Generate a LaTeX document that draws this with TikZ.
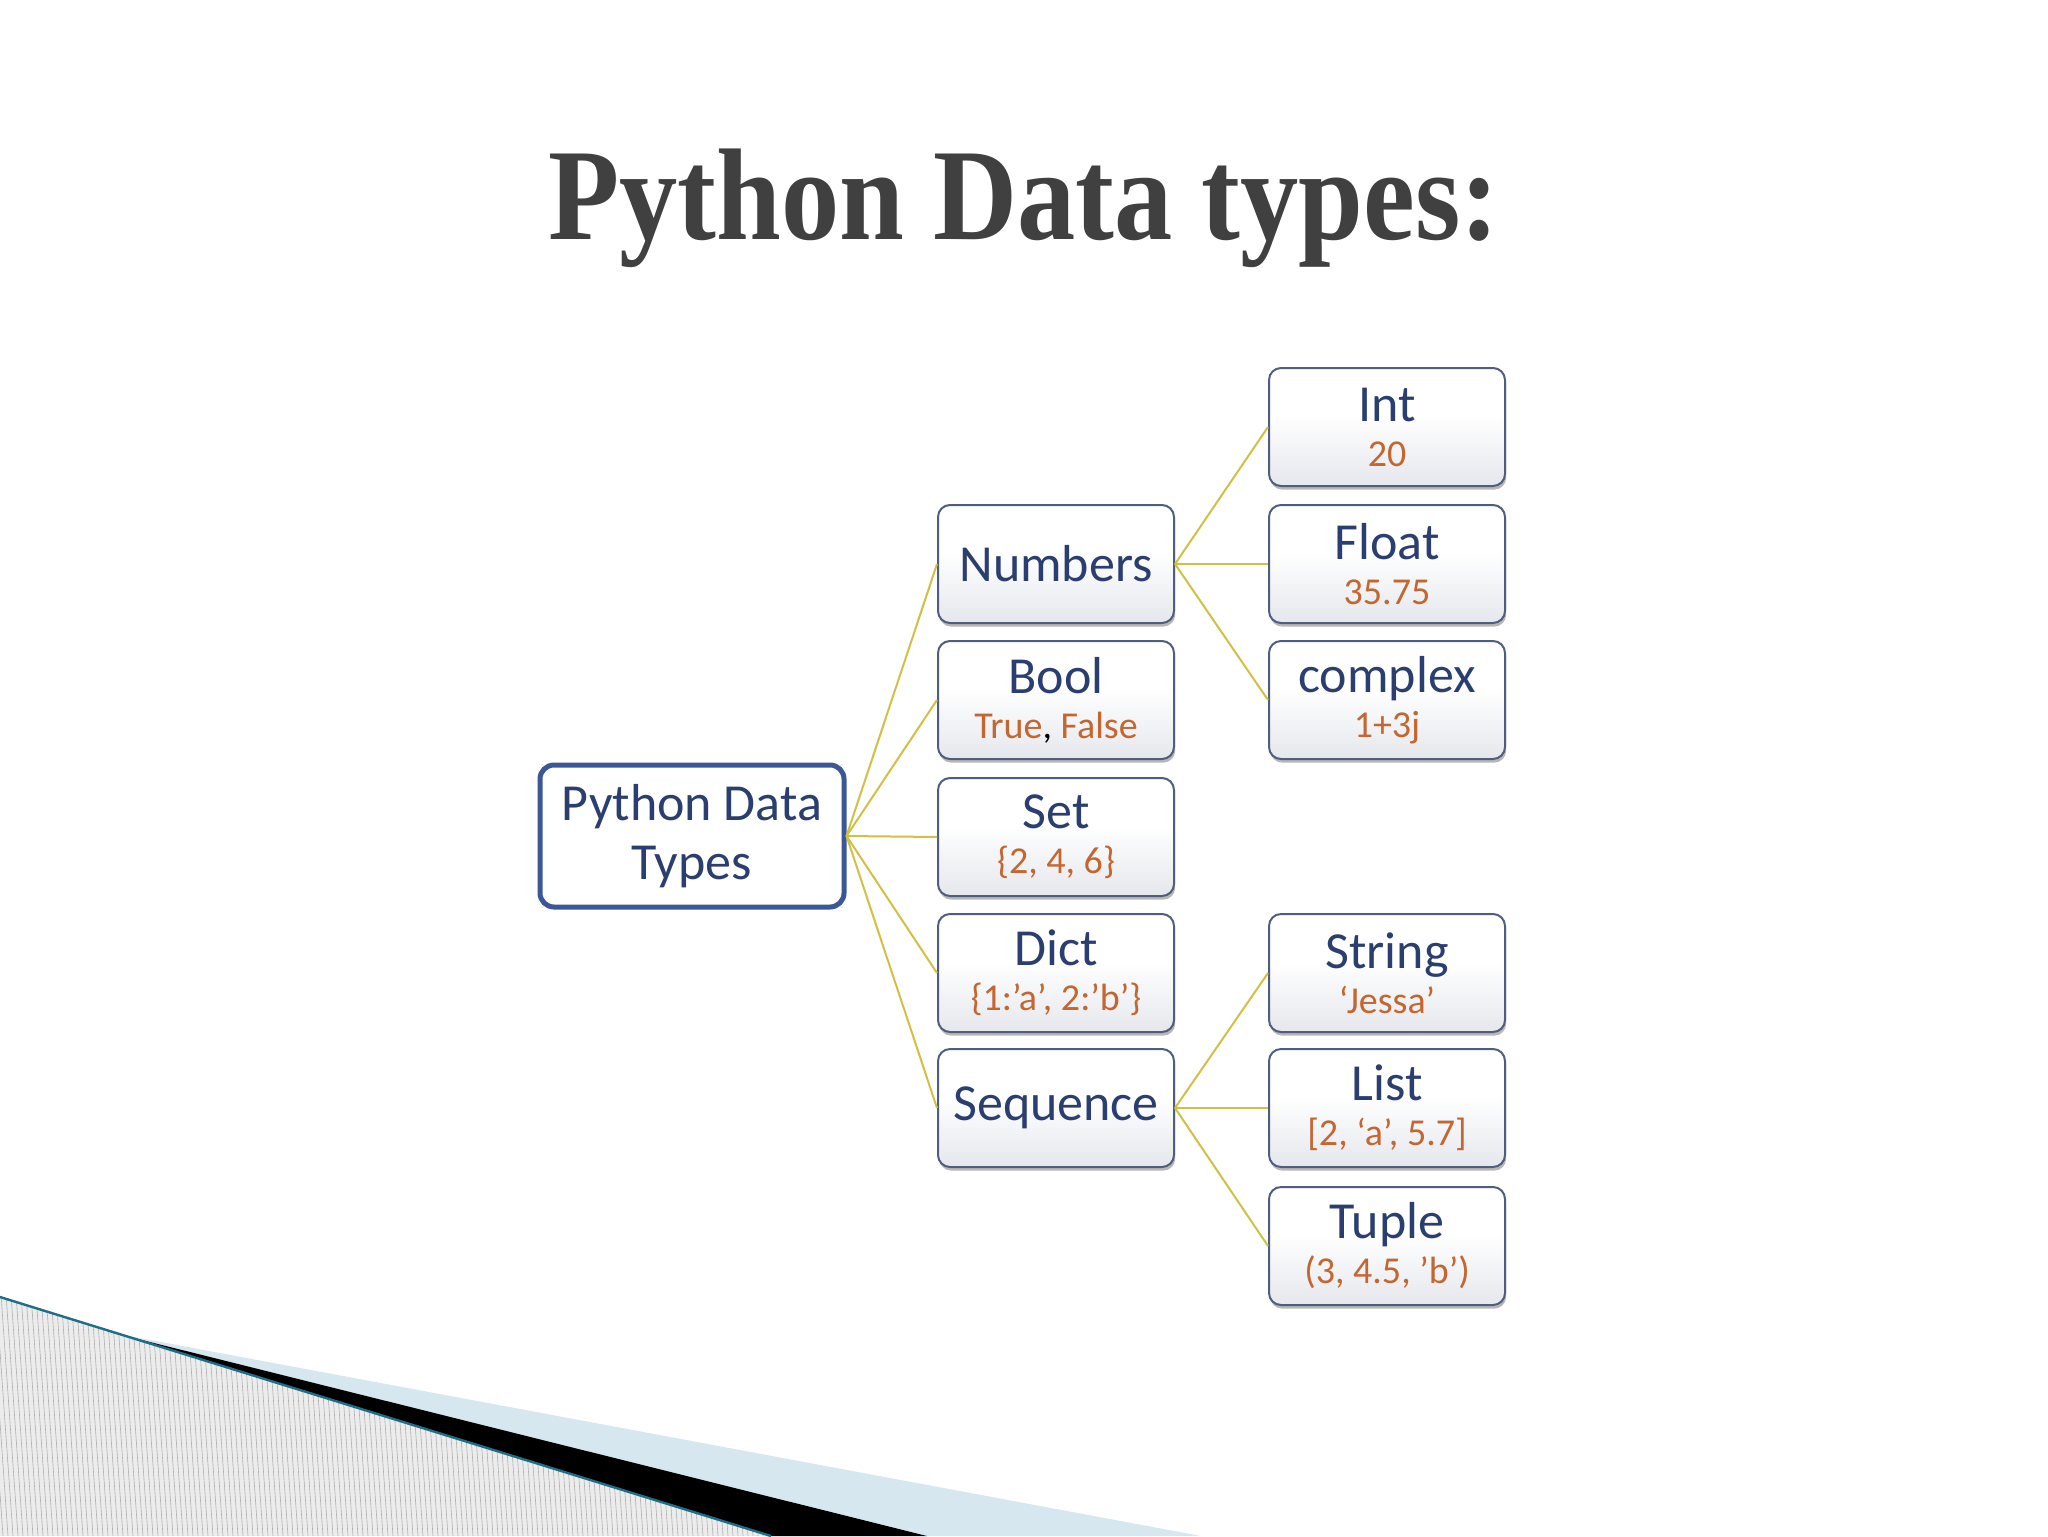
\documentclass[tikz,border=0pt]{standalone}
\usepackage{fontspec}
\setmainfont{Carlito}
\newfontfamily\titlefont{Liberation Serif}
\usetikzlibrary{shadows}
\definecolor{maintext}{RGB}{42,62,112}
\definecolor{subtext}{RGB}{196,102,48}
\definecolor{boxline}{RGB}{80,94,125}
\definecolor{rootline}{RGB}{58,88,150}
\definecolor{conn}{RGB}{210,192,70}
\definecolor{boxbot}{RGB}{214,218,226}
\definecolor{titlegray}{RGB}{64,64,64}
\definecolor{hatchbg}{RGB}{236,236,236}
\definecolor{hatchln}{RGB}{175,175,175}
\definecolor{tealln}{RGB}{30,110,135}
\definecolor{lightblue}{RGB}{214,231,240}
\pgfdeclareverticalshading{boxshade}{100bp}{color(0bp)=(boxbot); color(8bp)=(boxbot); color(55bp)=(white); color(100bp)=(white)}
\newcommand\subv[1]{{\fontsize{19}{22.5}\selectfont\color{subtext}#1}}
\tikzset{
  typebox/.style={draw=boxline, line width=1pt, rounded corners=6pt,
    minimum width=118pt, minimum height=59pt, inner sep=0pt, align=center,
    shade, shading=boxshade, text=maintext,
    font=\fontsize{26}{22.5}\selectfont,
    drop shadow={shadow xshift=0.6pt, shadow yshift=-1.8pt, opacity=0.4, fill=black!70}},
  rootbox/.style={draw=rootline, line width=2.5pt, rounded corners=7pt,
    minimum width=152pt, minimum height=71pt, inner sep=0pt, align=center,
    fill=white, text=maintext, font=\fontsize{26}{29.5}\selectfont},
  connector/.style={draw=conn, line width=1pt},
  titletext/.style={text=titlegray, font=\titlefont\bfseries\fontsize{64}{70}\selectfont, inner sep=0pt}
}
\begin{document}
\begin{tikzpicture}[x=0.5pt,y=-0.5pt]
\useasboundingbox (0,0) rectangle (2048,1536);
\fill[white] (0,0) rectangle (2048,1536);

% bottom-left decoration
\fill[lightblue] (118,1334) -- (1201,1536) -- (927,1536) -- cycle;
\fill[black] (118,1334) -- (927,1536) -- (771,1536) -- cycle;
\begin{scope}
  \clip (0,1297) -- (771,1536) -- (0,1536) -- cycle;
  \fill[hatchbg] (0,1280) rectangle (790,1536);
  \foreach \x in {-40,-35,...,790}
    \draw[hatchln, line width=0.3pt] (\x,1280) -- (\x+18,1536);
\end{scope}
\draw[tealln, line width=1.2pt] (0,1297) -- (771,1536);

% title
\node[titletext, anchor=base] (title) at (1024,239) {\scalebox{0.91}[1.02]{Python Data types:}};

% nodes
\node[rootbox] (root) at (692,836) {Python Data\\Types};

\node[typebox] (numbers)  at (1056,564)  {Numbers};
\node[typebox] (bool)     at (1056,700)  {Bool\\\subv{True{\color{black},} False}};
\node[typebox] (set)      at (1056,837)  {Set\\\subv{\{2, 4, 6\}}};
\node[typebox] (dict)     at (1056,973)  {Dict\\\subv{\{1:’a’, 2:’b’\}}};
\node[typebox] (sequence) at (1056,1108) {Sequence};

\node[typebox] (int)     at (1387,427)  {Int\\\subv{20}};
\node[typebox] (float)   at (1387,564)  {Float\\\subv{35.75}};
\node[typebox] (complex) at (1387,700)  {complex\\\subv{1+3j}};
\node[typebox] (string)  at (1387,973)  {String\\\subv{‘Jessa’}};
\node[typebox] (list)    at (1387,1108) {List\\\subv{[2, ‘a’, 5.7]}};
\node[typebox] (tuple)   at (1387,1246) {Tuple\\\subv{(3, 4.5, ’b’)}};

% connectors
\foreach \t in {numbers,bool,set,dict,sequence}
  \draw[connector] (root.east) -- (\t.west);
\foreach \t in {int,float,complex}
  \draw[connector] (numbers.east) -- (\t.west);
\foreach \t in {string,list,tuple}
  \draw[connector] (sequence.east) -- (\t.west);
\end{tikzpicture}
\end{document}
